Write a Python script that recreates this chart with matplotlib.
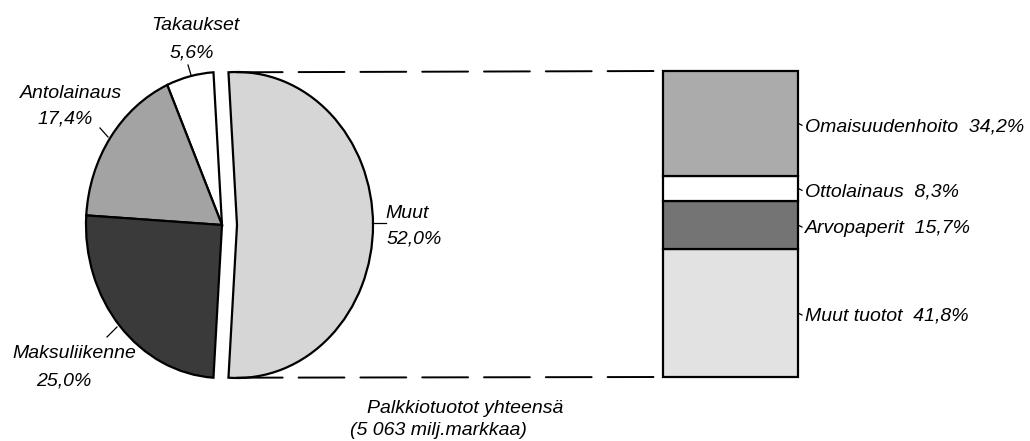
import matplotlib
matplotlib.use("Agg")
import numpy as np
import matplotlib.pyplot as plt
from matplotlib.patches import ConnectionPatch

plt.rcParams['font.family'] = ['Liberation Sans', 'DejaVu Sans']
plt.rcParams['font.style'] = 'italic'
plt.rcParams['font.size'] = 14
plt.rcParams['lines.scale_dashes'] = False

# pie data (counter-clockwise, starting with the exploded slice)
pie_labels = ['Muut', 'Takaukset', 'Antolainaus', 'Maksuliikenne']
pie_values = [52.0, 5.6, 17.4, 25.0]
pie_colors = ['#d6d6d6', '#ffffff', '#a3a3a3', '#3a3a3a']

# breakdown of "Muut" (stacked from the bottom)
bar_labels = ['Muut tuotot', 'Arvopaperit', 'Ottolainaus', 'Omaisuudenhoito']
bar_values = [41.8, 15.7, 8.3, 34.2]
bar_colors = ['#e2e2e2', '#747474', '#ffffff', '#ababab']

total_text = ['Palkkiotuotot yhteensä', '(5 063 milj.markkaa)']


def pct(v):
    return f'{v:.1f}'.replace('.', ',') + '%'


W, H = 1030, 441
fig = plt.figure(figsize=(W / 100, H / 100), dpi=100)


def px_axes(x0, y0, x1, y1):
    # box in pixels, y measured from the top
    return fig.add_axes([x0 / W, 1 - y1 / H, (x1 - x0) / W, (y1 - y0) / H])


# pie, slightly squeezed horizontally like the original
cx, cy, rx, ry = 222, 225, 136, 153
ax_pie = px_axes(cx - 1.5 * rx, cy - 1.2 * ry, cx + 1.5 * rx, cy + 1.2 * ry)
start = -pie_values[0] / 100 * 360 / 2
wedges, _ = ax_pie.pie(pie_values, colors=pie_colors, startangle=start,
                       explode=[15 / rx, 0, 0, 0], counterclock=True,
                       wedgeprops=dict(edgecolor='black', linewidth=1.6))
ax_pie.set_aspect('auto')
ax_pie.set_xlim(-1.5, 1.5)
ax_pie.set_ylim(-1.2, 1.2)
ax_pie.axis('off')

# stacked bar
ax_bar = px_axes(663, 71, 798, 377)
bottoms = np.concatenate([[0], np.cumsum(bar_values)[:-1]])
ax_bar.bar(0, bar_values, bottom=bottoms, width=1.0, color=bar_colors,
           edgecolor='black', linewidth=1.6, clip_on=False)
ax_bar.set_xlim(-0.5, 0.5)
ax_bar.set_ylim(0, 100)
ax_bar.axis('off')
for lab, v, b in zip(bar_labels, bar_values, bottoms):
    ax_bar.annotate(f'{lab}  {pct(v)}', xy=(0.5, b + v / 2), xycoords='data',
                    xytext=(5, -1), textcoords='offset points',
                    ha='left', va='center_baseline', fontsize=14,
                    arrowprops=dict(arrowstyle='-', lw=0.9, relpos=(0, 0.5),
                                    shrinkA=0, shrinkB=0))

# dashed connectors from the exploded slice to the bar
w = wedges[0]
for theta, ybar in [(w.theta2, 100), (w.theta1, 0)]:
    pt = (w.center[0] + w.r * np.cos(np.radians(theta)),
          w.center[1] + w.r * np.sin(np.radians(theta)))
    con = ConnectionPatch(xyA=pt, coordsA=ax_pie.transData,
                          xyB=(-0.5, ybar), coordsB=ax_bar.transData,
                          linestyle=(0, (33, 11.5)), lw=1.4, color='black',
                          shrinkA=6, shrinkB=6)
    fig.add_artist(con)

# overlay in pixel coordinates for the pie labels
ov = fig.add_axes([0, 0, 1, 1])
ov.set_xlim(0, W)
ov.set_ylim(H, 0)
ov.axis('off')
ov.patch.set_alpha(0)

# (name x, name baseline, pct x, pct baseline, leader line)
pie_label_pos = {
    'Takaukset': (195, 30, 192, 57, [(188, 65), (191, 75)]),
    'Antolainaus': (71, 98, 65, 124, [(100, 128), (108, 137)]),
    'Maksuliikenne': (74, 358, 64, 386, [(107, 337), (117, 327)]),
    'Muut': (407, 218, 414, 243, [(372, 223), (386, 223)]),
}
for lab, v in zip(pie_labels, pie_values):
    nx, ny, px, py, ln = pie_label_pos[lab]
    ov.text(nx, ny, lab, ha='center', va='baseline', fontsize=14)
    ov.text(px, py, pct(v), ha='center', va='baseline', fontsize=14)
    (x0, y0), (x1, y1) = ln
    ov.plot([x0, x1], [y0, y1], color='black', lw=0.9)

ov.text(367, 413, total_text[0], ha='left', va='baseline', fontsize=14)
ov.text(350, 435, total_text[1], ha='left', va='baseline', fontsize=14)

fig.savefig('out.png', dpi=100)
